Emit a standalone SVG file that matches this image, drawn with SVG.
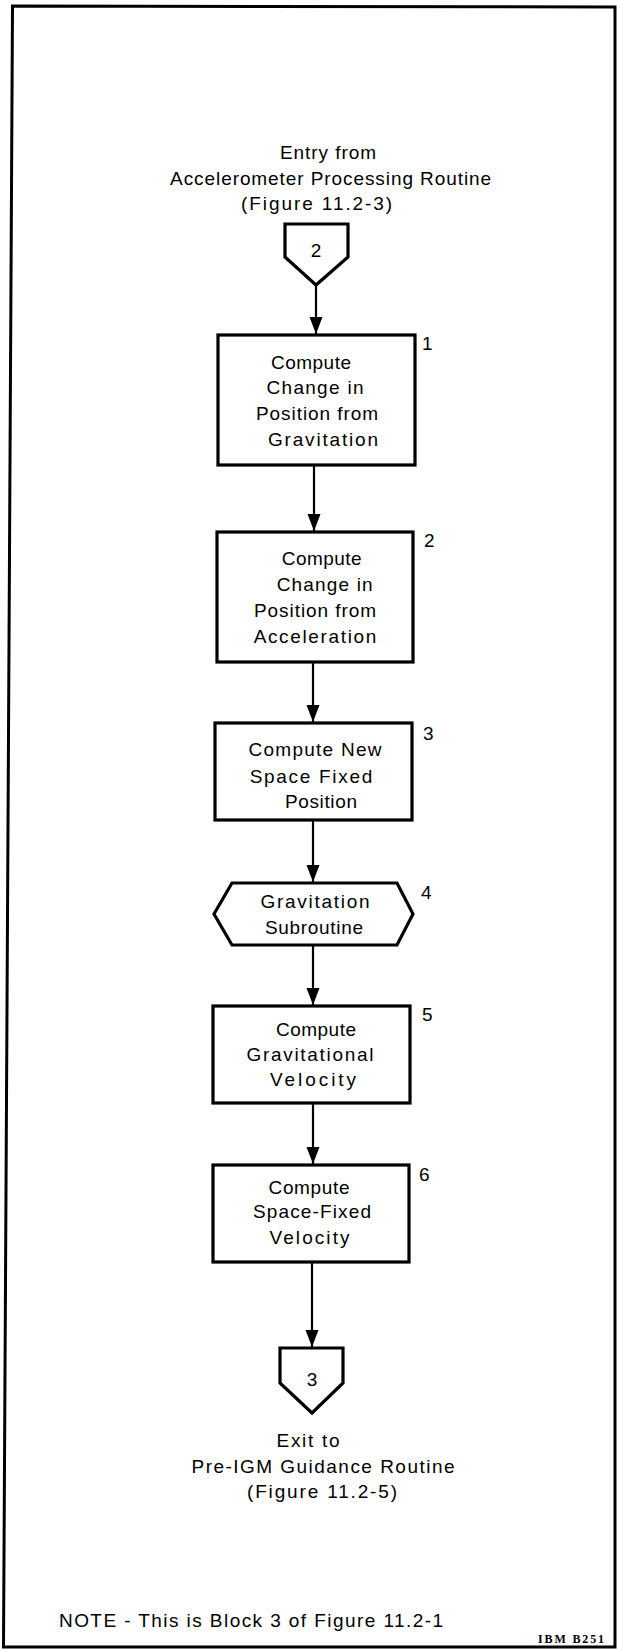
<svg xmlns="http://www.w3.org/2000/svg" width="617" height="1649" viewBox="0 0 617 1649">
<style>
.t{font-family:"Liberation Sans",Arial,sans-serif;font-size:19px;fill:#000;text-anchor:middle}
.n{font-family:"Liberation Sans",Arial,sans-serif;font-size:19px;fill:#000}
.box{fill:#fff;stroke:#000;stroke-width:3.2;stroke-linejoin:miter}
.ln{stroke:#000;stroke-width:2.2;fill:none}
</style>
<defs>
<marker id="ah" markerUnits="userSpaceOnUse" markerWidth="18" markerHeight="14" refX="17" refY="6.5" orient="auto">
<path d="M0,0 L17,6.5 L0,13 Z" fill="#000"/>
</marker>
</defs>
<rect width="617" height="1649" fill="#fff"/>
<path id="frame" d="M12.5,6 L615,7 L615,1647 L3.5,1647 Z" fill="none" stroke="#000" stroke-width="3"/>

<g id="connectors">
<line class="ln" x1="316" y1="285" x2="316" y2="334" marker-end="url(#ah)"/>
<line class="ln" x1="314" y1="465" x2="314" y2="531" marker-end="url(#ah)"/>
<line class="ln" x1="313" y1="662" x2="313" y2="722" marker-end="url(#ah)"/>
<line class="ln" x1="313" y1="820" x2="313" y2="882" marker-end="url(#ah)"/>
<line class="ln" x1="313" y1="945" x2="313" y2="1005" marker-end="url(#ah)"/>
<line class="ln" x1="313" y1="1103" x2="313" y2="1164" marker-end="url(#ah)"/>
<line class="ln" x1="312" y1="1262" x2="312" y2="1347" marker-end="url(#ah)"/>
</g>

<g id="entry">
<text class="t" x="328" y="159" textLength="96" lengthAdjust="spacing">Entry from</text>
<text class="t" x="330.6" y="185" textLength="321" lengthAdjust="spacing">Accelerometer Processing Routine</text>
<text class="t" x="316.6" y="210" textLength="151" lengthAdjust="spacing">(Figure 11.2-3)</text>
<path class="box" d="M285,224 H348 V257 L316,285 L285,257 Z"/>
<text class="t" x="316" y="257">2</text>
</g>

<g id="block1">
<rect class="box" x="218" y="335" width="197" height="130"/>
<text class="t" x="311" y="369" textLength="80" lengthAdjust="spacing">Compute</text>
<text class="t" x="315" y="394" textLength="97" lengthAdjust="spacing">Change in</text>
<text class="t" x="317" y="420" textLength="122" lengthAdjust="spacing">Position from</text>
<text class="t" x="323" y="446" textLength="110" lengthAdjust="spacing">Gravitation</text>
<text class="n" x="422" y="350">1</text>
</g>

<g id="block2">
<rect class="box" x="217" y="532" width="196" height="130"/>
<text class="t" x="321.7" y="565" textLength="80" lengthAdjust="spacing">Compute</text>
<text class="t" x="324.7" y="591" textLength="96" lengthAdjust="spacing">Change in</text>
<text class="t" x="315" y="617" textLength="122" lengthAdjust="spacing">Position from</text>
<text class="t" x="315" y="643" textLength="122.7" lengthAdjust="spacing">Acceleration</text>
<text class="n" x="424" y="547">2</text>
</g>

<g id="block3">
<rect class="box" x="215" y="723" width="197" height="97"/>
<text class="t" x="315" y="756" textLength="133" lengthAdjust="spacing">Compute New</text>
<text class="t" x="311" y="783" textLength="122.7" lengthAdjust="spacing">Space Fixed</text>
<text class="t" x="321" y="808" textLength="72" lengthAdjust="spacing">Position</text>
<text class="n" x="423" y="740">3</text>
</g>

<g id="block4">
<path class="box" d="M232,883 H397 L413,914 L397,945 H232 L214,914 Z"/>
<text class="t" x="315" y="908" textLength="109" lengthAdjust="spacing">Gravitation</text>
<text class="t" x="314" y="934" textLength="98" lengthAdjust="spacing">Subroutine</text>
<text class="n" x="421" y="899">4</text>
</g>

<g id="block5">
<rect class="box" x="213" y="1006" width="197" height="97"/>
<text class="t" x="316" y="1036" textLength="80" lengthAdjust="spacing">Compute</text>
<text class="t" x="310" y="1061" textLength="127" lengthAdjust="spacing">Gravitational</text>
<text class="t" x="313" y="1086" textLength="86" lengthAdjust="spacing">Velocity</text>
<text class="n" x="422" y="1021">5</text>
</g>

<g id="block6">
<rect class="box" x="213" y="1165" width="196" height="97"/>
<text class="t" x="309" y="1194" textLength="81" lengthAdjust="spacing">Compute</text>
<text class="t" x="312" y="1218" textLength="118" lengthAdjust="spacing">Space-Fixed</text>
<text class="t" x="309.5" y="1244" textLength="80" lengthAdjust="spacing">Velocity</text>
<text class="n" x="419" y="1181">6</text>
</g>

<g id="exit">
<path class="box" d="M280,1348 H343 V1383 L312,1413 L280,1383 Z"/>
<text class="t" x="312" y="1386">3</text>
<text class="t" x="308" y="1447" textLength="63" lengthAdjust="spacing">Exit to</text>
<text class="t" x="323" y="1473" textLength="263" lengthAdjust="spacing">Pre-IGM Guidance Routine</text>
<text class="t" x="322" y="1498" textLength="150" lengthAdjust="spacing">(Figure 11.2-5)</text>
</g>

<g id="notes">
<text x="59" y="1627" font-family="'Liberation Sans',Arial,sans-serif" font-size="19" textLength="384" lengthAdjust="spacing">NOTE - This is Block 3 of Figure 11.2-1</text>
<text x="538" y="1643" font-family="'Liberation Serif','Times New Roman',serif" font-size="12" font-weight="bold" textLength="66" lengthAdjust="spacing">IBM B251</text>
</g>
</svg>
